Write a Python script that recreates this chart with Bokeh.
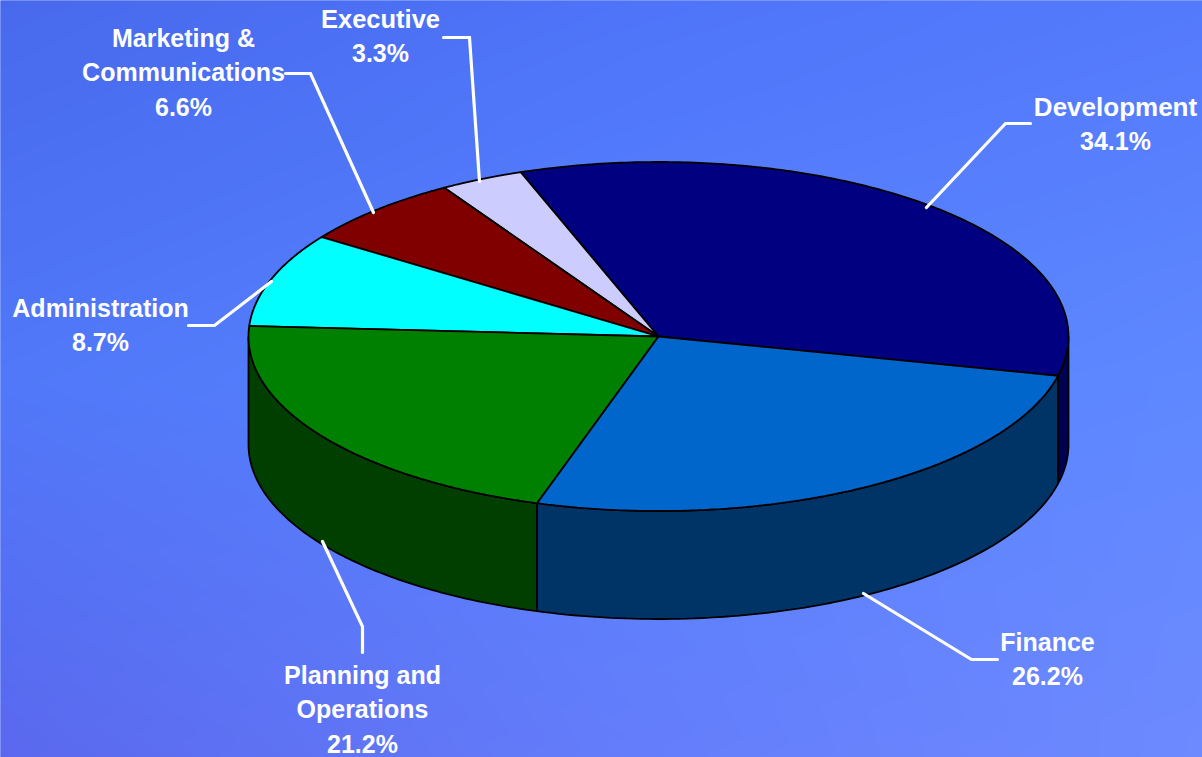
import numpy as np
from bokeh.core.properties import value
from bokeh.embed import file_html
from bokeh.models import ColumnDataSource, Range1d
from bokeh.plotting import figure
from bokeh.resources import INLINE

# Budget shares, counter-clockwise from the Development / Finance boundary.
departments = ["Development", "Executive", "Marketing & Communications",
               "Administration", "Planning and Operations", "Finance"]
shares = [34.1, 3.3, 6.6, 8.7, 21.2, 26.2]
top_colors = ["#000080", "#CCCCFF", "#800000", "#00FFFF", "#008000", "#0066CC"]
side_colors = ["#000050", "#7F7FA0", "#500000", "#009F9F", "#003F00", "#003366"]

# Label lines (name wrapped as printed, then the share).
label_lines = [["Development"], ["Executive"], ["Marketing &", "Communications"],
               ["Administration"], ["Planning and", "Operations"], ["Finance"]]

WIDTH, HEIGHT = 1202, 757
CX, CY, RX, RY = 658.0, 336.0, 410.0, 174.5
DEPTH = 108.0
START_DEG = -13.0

# Label block centres, first line's y (from the top of the page) and name size.
label_x = [1115, 380, 183, 100, 362, 1047]
label_y = [106, 18, 37, 307, 674, 641]
name_sizes = ["26px", "25.5px", "25px", "25px", "25px", "25px"]
LINE_STEP = 34.6

# Leader polylines from each label to its slice.
leader_xs = [[1030, 1005, 926], [443, 469, 479], [285, 310, 373],
             [188, 214, 271], [362, 362, 322], [997, 971, 863]]
leader_ys = [[123, 123, 207], [37, 37, 181], [73, 73, 212],
             [325, 325, 281], [652, 626, 541], [659, 659, 593]]

# Background colour control grid (rows top to bottom, columns left to right).
bg_grid = np.array([
    [[72, 105, 236], [78, 115, 248], [84, 122, 252]],
    [[80, 120, 248], [86, 130, 255], [94, 136, 255]],
    [[90, 104, 238], [100, 124, 250], [110, 138, 255]],
], dtype=float)


def flip(y):
    # Page y (downwards) to plot y (upwards).
    return HEIGHT - np.asarray(y, dtype=float)


def background():
    u = np.linspace(0, 2, WIDTH)
    v = np.linspace(2, 0, HEIGHT)  # image rows run bottom to top
    i = np.minimum(u.astype(int), 1)
    j = np.minimum(v.astype(int), 1)
    fu = (u - i)[None, :, None]
    fv = (v - j)[:, None, None]
    jj, ii = np.meshgrid(j, i, indexing="ij")
    rgb = (bg_grid[jj, ii] * (1 - fu) * (1 - fv) + bg_grid[jj, ii + 1] * fu * (1 - fv)
           + bg_grid[jj + 1, ii] * (1 - fu) * fv + bg_grid[jj + 1, ii + 1] * fu * fv)
    img = np.zeros((HEIGHT, WIDTH, 4), dtype=np.uint8)
    img[:, :, :3] = rgb.round().astype(np.uint8)
    img[:, :, 3] = 255
    return img.view(dtype=np.uint32).reshape((HEIGHT, WIDTH))


def rim(deg):
    t = np.radians(deg)
    return CX + RX * np.cos(t), CY - RY * np.sin(t)


p = figure(width=WIDTH, height=HEIGHT, output_backend="svg", toolbar_location=None,
           x_range=Range1d(0, WIDTH), y_range=Range1d(0, HEIGHT), min_border=0,
           outline_line_color=None, background_fill_color="#5078F8", border_fill_color="#5078F8")
p.axis.visible = False
p.grid.visible = False

# Slightly oversized so the gradient reaches every page edge.
p.image_rgba(image=[background()], x=-3, y=-3, dw=WIDTH + 6, dh=HEIGHT + 6)

# Slice boundaries in degrees, from the share of each department.
edges = START_DEG + np.concatenate([[0], np.cumsum(shares)]) * 360.0 / sum(shares)

# Outer wall: only the part of each slice on the near half of the ellipse shows.
wall_xs, wall_ys, wall_fill = [], [], []
for a0, a1, col in zip(edges[:-1], edges[1:], side_colors):
    for lo, hi in [(a0, min(a1, 0.0)), (max(a0, 180.0), min(a1, 360.0))]:
        if hi <= lo:
            continue
        x, y = rim(np.linspace(lo, hi, 90))
        wall_xs.append(np.concatenate([x, x[::-1]]))
        wall_ys.append(flip(np.concatenate([y, y[::-1] + DEPTH])))
        wall_fill.append(col)
p.patches(wall_xs, wall_ys, fill_color=wall_fill, line_color="black", line_width=1.8)

# Top face wedges.
top_xs, top_ys = [], []
for a0, a1 in zip(edges[:-1], edges[1:]):
    x, y = rim(np.linspace(a0, a1, 180))
    top_xs.append(np.concatenate([[CX], x]))
    top_ys.append(flip(np.concatenate([[CY], y])))
p.patches(top_xs, top_ys, fill_color=top_colors, line_color="black", line_width=1.8)

# Leader lines.
p.multi_line(leader_xs, [flip(ys) for ys in leader_ys], line_color="white", line_width=3.2,
             line_join="miter", line_cap="round")

# Labels: name lines followed by the percentage line.
tx, ty, tt, ts = [], [], [], []
for lines, share, x0, y0, size in zip(label_lines, shares, label_x, label_y, name_sizes):
    names = lines + [f"{share:.1f}%"]
    for k, line in enumerate(names):
        tx.append(x0)
        ty.append(float(flip(y0 + k * LINE_STEP)))
        tt.append(line)
        ts.append(size if k < len(names) - 1 else "25px")
p.text(x="x", y="y", text="t", source=ColumnDataSource(dict(x=tx, y=ty, t=tt, s=ts)),
       text_color="white", text_font=value("Liberation Sans"), text_font_style="bold",
       text_font_size="s", text_align="center", text_baseline="middle")

open("out.html", "w").write(file_html(p, INLINE))
